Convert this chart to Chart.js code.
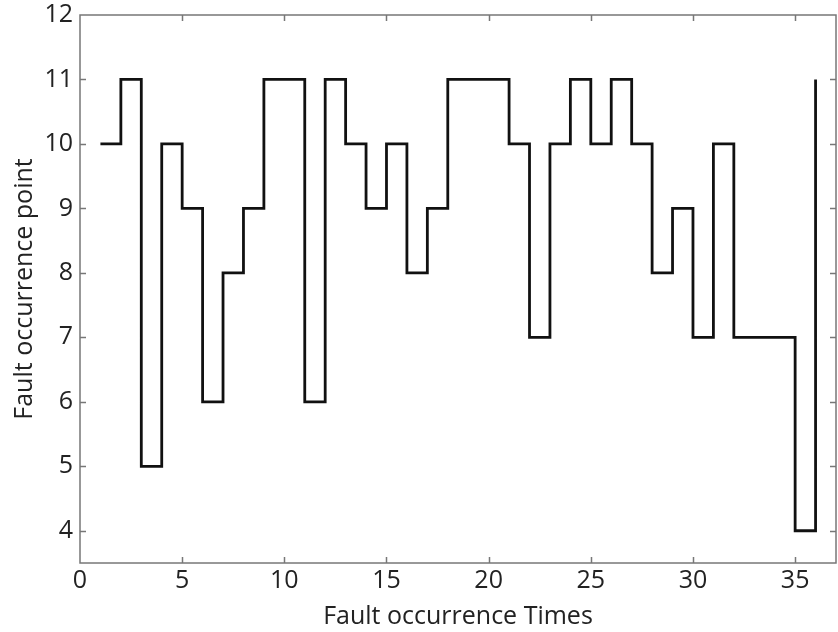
<!DOCTYPE html>
<html>
<head>
<meta charset="utf-8">
<script src="https://cdn.jsdelivr.net/npm/chart.js@4"></script>
<style>
    body { margin: 0; background: #fff; }
    #wrap { width: 838px; height: 632px; }
</style>
</head>
<body>
<div id="wrap"><canvas id="faultChart"></canvas></div>
<script>
// Fault occurrence data (step 'post' style)
const faultTimes = [1, 2, 3, 4, 5, 6, 7, 8, 9, 10, 11, 12, 13, 14, 15, 16, 17, 18,
    19, 20, 21, 22, 23, 24, 25, 26, 27, 28, 29, 30, 31, 32, 33, 34, 35, 36];
const faultPoints = [10, 11, 5, 10, 9, 6, 8, 9, 11, 11, 6, 11, 10, 9, 10, 8, 9, 11,
    11, 11, 10, 7, 10, 11, 10, 11, 10, 8, 9, 7, 10, 7, 7, 7, 4, 11];
const xTicks = [0, 5, 10, 15, 20, 25, 30, 35];
const yTicks = [4, 5, 6, 7, 8, 9, 10, 11, 12];

const tickFont = { family: 'Open Sans', size: 25 };
const titleFont = { family: 'Open Sans', size: 25 };
const axisColor = '#777';

// draw the box and inward ticks on all four sides
const boxPlugin = {
    id: 'boxTicks',
    afterDraw(chart) {
        const ctx = chart.ctx;
        const area = chart.chartArea;
        const xs = chart.scales.x;
        const ys = chart.scales.y;
        const len = 6;
        ctx.save();
        ctx.strokeStyle = axisColor;
        ctx.lineWidth = 1.5;
        ctx.strokeRect(area.left, area.top, area.right - area.left, area.bottom - area.top);
        ctx.beginPath();
        xTicks.forEach(v => {
            if (v === 0) return;
            const px = Math.round(xs.getPixelForValue(v)) + 0.5;
            ctx.moveTo(px, area.bottom);
            ctx.lineTo(px, area.bottom - len);
            ctx.moveTo(px, area.top);
            ctx.lineTo(px, area.top + len);
        });
        yTicks.forEach(v => {
            if (v === 12) return;
            const py = Math.round(ys.getPixelForValue(v)) + 0.5;
            ctx.moveTo(area.left, py);
            ctx.lineTo(area.left + len, py);
            ctx.moveTo(area.right, py);
            ctx.lineTo(area.right - len, py);
        });
        ctx.stroke();
        ctx.restore();
    }
};

const ctx = document.getElementById('faultChart');
new Chart(ctx, {
    type: 'line',
    data: {
        datasets: [{
            data: faultTimes.map((t, i) => ({ x: t, y: faultPoints[i] })),
            borderColor: '#111',
            borderWidth: 2.8,
            stepped: 'before',
            pointRadius: 0,
            fill: false
        }]
    },
    options: {
        responsive: true,
        maintainAspectRatio: false,
        animation: false,
        layout: { padding: { top: 15, right: 2, left: 0, bottom: 0 } },
        plugins: {
            legend: { display: false },
            tooltip: { enabled: false }
        },
        scales: {
            x: {
                type: 'linear',
                min: 0,
                max: 37,
                afterBuildTicks: scale => { scale.ticks = xTicks.map(v => ({ value: v })); },
                afterFit: scale => { scale.height = 69; scale.paddingLeft = 0; scale.paddingRight = 0; },
                grid: { display: false, drawTicks: false },
                border: { display: false },
                ticks: { font: tickFont, color: '#222', padding: 3, maxRotation: 0 },
                title: {
                    display: true,
                    text: 'Fault occurrence Times',
                    font: titleFont,
                    color: '#222',
                    padding: { top: -12, bottom: 0 }
                }
            },
            y: {
                min: 3.5,
                max: 12,
                afterBuildTicks: scale => { scale.ticks = yTicks.map(v => ({ value: v })); },
                afterFit: scale => { scale.width = 80; scale.paddingTop = 0; scale.paddingBottom = 0; },
                grid: { display: false, drawTicks: false },
                border: { display: false },
                ticks: { font: tickFont, color: '#222', padding: 7 },
                title: {
                    display: true,
                    text: 'Fault occurrence point',
                    font: titleFont,
                    color: '#222',
                    padding: { top: 10, bottom: 0 }
                }
            }
        }
    },
    plugins: [boxPlugin]
});
</script>
</body>
</html>
